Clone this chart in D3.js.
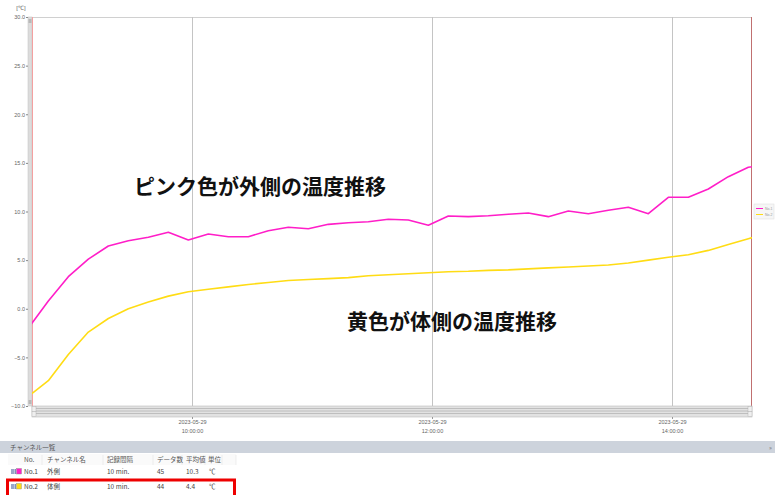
<!DOCTYPE html>
<html>
<head>
<meta charset="utf-8">
<script src="https://cdn.jsdelivr.net/npm/d3@7"></script>
<style>
  html, body { margin: 0; padding: 0; background: #fff; }
  svg { display: block; }
  .ax text { font-family: "Liberation Sans", "DejaVu Sans", sans-serif; fill: #666; }
</style>
</head>
<body>
<svg id="chart" width="775" height="495"></svg>
<script>
// ---- data ----
const startTime = "2023-05-29T08:38:10";
const stepMinutes = 10;
const outerTemp = [ // No.1 外側 (pink)
  -2.0, 0.8, 3.3, 5.1, 6.45, 7.0, 7.35, 7.86, 7.07, 7.69,
  7.41, 7.41, 8.02, 8.38, 8.23, 8.68, 8.85, 8.95, 9.2, 9.13,
  8.58, 9.54, 9.47, 9.57, 9.72, 9.85, 9.47, 10.05, 9.77, 10.12,
  10.43, 9.77, 11.46, 11.46, 12.31, 13.58, 14.55, 14.8
];
const bodyTemp = [ // No.2 体側 (yellow)
  -9.0, -7.4, -4.7, -2.4, -1.0, 0.0, 0.7, 1.3, 1.75, 2.0,
  2.25, 2.5, 2.7, 2.9, 3.0, 3.1, 3.2, 3.4, 3.5, 3.6,
  3.7, 3.8, 3.85, 3.95, 4.0, 4.1, 4.2, 4.3, 4.4, 4.5,
  4.7, 5.0, 5.3, 5.55, 6.0, 6.6, 7.2, 7.8
];
const yTicks = [-10, -5, 0, 5, 10, 15, 20, 25, 30];
const xTickTimes = ["2023-05-29T10:00:00", "2023-05-29T12:00:00", "2023-05-29T14:00:00"];
const xDomain = ["2023-05-29T08:40:00", "2023-05-29T14:40:00"];
const yDomain = [-10, 30];
const unitLabel = "[℃]";
const seriesNames = ["No.1", "No.2"];
const seriesColors = ["#ff1ec8", "#ffdc14"];
const annotations = ["ピンク色が外側の温度推移", "黄色が体側の温度推移"];
const tableTitle = "チャンネル一覧";
const tableHeader = ["No.", "チャンネル名", "記録間隔", "データ数", "平均値", "単位"];
const tableRows = [
  ["No.1", "外側", "10 min.", "45", "10.3", "℃"],
  ["No.2", "体側", "10 min.", "44", "4.4", "℃"]
];

// ---- layout ----
const svg = d3.select("#chart");
const L = 32, R = 752, T = 17, B = 406;
const parse = s => new Date(s);
const t0 = parse(startTime);
const times = outerTemp.map((_, i) => new Date(t0.getTime() + i * stepMinutes * 60000));

const x = d3.scaleTime().domain(xDomain.map(parse)).range([L, R]);
const y = d3.scaleLinear().domain(yDomain).range([B, T]);

svg.append("defs").append("clipPath").attr("id", "clip")
  .append("rect").attr("x", L).attr("y", T).attr("width", R - L).attr("height", B - T);

// top border
svg.append("line").attr("x1", L).attr("x2", R).attr("y1", T + 0.5).attr("y2", T + 0.5)
  .attr("stroke", "#d0d0d0").attr("stroke-width", 1);

// vertical grid
svg.append("g").selectAll("line").data(xTickTimes.map(parse)).join("line")
  .attr("x1", d => Math.round(x(d)) + 0.5).attr("x2", d => Math.round(x(d)) + 0.5)
  .attr("y1", T).attr("y2", B)
  .attr("stroke", "#c4c4c4").attr("stroke-width", 1);

// left vertical scroll bar
svg.append("rect").attr("x", 28).attr("y", T).attr("width", 4).attr("height", B - T)
  .attr("fill", "#dcdcdc").attr("stroke", "#c0c0c0").attr("stroke-width", 0.5);
svg.append("rect").attr("x", 28.5).attr("y", T + 2).attr("width", 3).attr("height", 4)
  .attr("fill", "#b8b8b8");
svg.append("rect").attr("x", 28.5).attr("y", B - 6).attr("width", 3).attr("height", 4)
  .attr("fill", "#b8b8b8");
svg.append("line").attr("x1", L + 0.5).attr("x2", L + 0.5).attr("y1", T).attr("y2", B)
  .attr("stroke", "#f4a0a0").attr("stroke-width", 1);
// right boundary line
svg.append("line").attr("x1", R - 0.5).attr("x2", R - 0.5).attr("y1", T).attr("y2", B)
  .attr("stroke", "#c07070").attr("stroke-width", 1);

// y axis
const yAxis = d3.axisLeft(y).tickValues(yTicks).tickFormat(d3.format(".1f")).tickSize(2).tickPadding(1);
const gy = svg.append("g").attr("class", "ax").attr("transform", `translate(${28},0)`).call(yAxis);
gy.select(".domain").remove();
gy.selectAll(".tick line").attr("stroke", "#888");
gy.selectAll("text").attr("font-size", 5.5);
svg.append("text").attr("x", 21).attr("y", 10).attr("text-anchor", "middle")
  .attr("font-size", 6).attr("fill", "#666").attr("font-family", "Liberation Sans, sans-serif")
  .text(unitLabel);

// horizontal scroll bar under plot
const sb = svg.append("g");
sb.append("rect").attr("x", L).attr("y", B).attr("width", R - L).attr("height", 11)
  .attr("fill", "#e2e2e2").attr("stroke", "#bdbdbd").attr("stroke-width", 0.6);
[408.5, 411, 413.5].forEach(yy => sb.append("line").attr("x1", L + 4).attr("x2", R - 4)
  .attr("y1", yy).attr("y2", yy).attr("stroke", "#b5b5b5").attr("stroke-width", 0.8));
[L, R - 4].forEach(xx => {
  sb.append("rect").attr("x", xx).attr("y", B + 0.5).attr("width", 4).attr("height", 5)
    .attr("fill", "#efefef").attr("stroke", "#aaa").attr("stroke-width", 0.4);
  sb.append("rect").attr("x", xx).attr("y", B + 5.5).attr("width", 4).attr("height", 5)
    .attr("fill", "#efefef").attr("stroke", "#aaa").attr("stroke-width", 0.4);
});

// x axis
const xAxis = d3.axisBottom(x).tickValues(xTickTimes.map(parse)).tickSize(2).tickFormat("");
const gx = svg.append("g").attr("class", "ax").attr("transform", `translate(0,${B + 11})`).call(xAxis);
gx.select(".domain").remove();
gx.selectAll(".tick line").attr("stroke", "#999");
const fmtD = d3.timeFormat("%Y-%m-%d"), fmtT = d3.timeFormat("%H:%M:%S");
gx.selectAll(".tick").append("text").attr("font-size", 5.5).attr("text-anchor", "middle")
  .attr("fill", "#666")
  .each(function(d) {
    const t = d3.select(this);
    t.append("tspan").attr("x", 0).attr("y", 7).text(fmtD(d));
    t.append("tspan").attr("x", 0).attr("y", 16).text(fmtT(d));
  });

// lines
const line = d3.line().x((d, i) => x(times[i])).y(d => y(d));
const plot = svg.append("g").attr("clip-path", "url(#clip)");
[bodyTemp, outerTemp].forEach((s, j) => {
  const col = j === 0 ? seriesColors[1] : seriesColors[0];
  plot.append("path").datum(s).attr("d", line).attr("fill", "none")
    .attr("stroke", col).attr("stroke-width", 1.6).attr("stroke-linejoin", "round");
});

// small legend at right
const lg = svg.append("g").attr("transform", "translate(754,204)");
lg.append("rect").attr("x", 0).attr("y", 0).attr("width", 20).attr("height", 15)
  .attr("fill", "#f6f6f6").attr("stroke", "#e0e0e0").attr("stroke-width", 0.6);
seriesNames.forEach((n, i) => {
  lg.append("line").attr("x1", 2).attr("x2", 9).attr("y1", 4.5 + i * 6).attr("y2", 4.5 + i * 6)
    .attr("stroke", seriesColors[i]).attr("stroke-width", 1);
  lg.append("text").attr("x", 11).attr("y", 6 + i * 6).attr("font-size", 3.5).attr("fill", "#999")
    .attr("font-family", "Liberation Sans, sans-serif").text(n);
});

// annotations
const cjk = "'Noto Sans CJK JP', 'Noto Sans CJK SC', sans-serif";
svg.append("text").attr("x", 134).attr("y", 194).attr("font-size", 21).attr("font-weight", "bold")
  .attr("font-family", cjk).attr("fill", "#111").text(annotations[0]);
svg.append("text").attr("x", 347).attr("y", 329).attr("font-size", 21).attr("font-weight", "bold")
  .attr("font-family", cjk).attr("fill", "#111").text(annotations[1]);

// bottom panel
const panelFont = "'Noto Sans CJK JP', 'Noto Sans', sans-serif";
svg.append("rect").attr("x", 0).attr("y", 441).attr("width", 775).attr("height", 12)
  .attr("fill", "#cdd3dc");
svg.append("text").attr("x", 10).attr("y", 450).attr("font-size", 6.5).attr("fill", "#555")
  .attr("font-family", panelFont).text(tableTitle);
svg.append("text").attr("x", 769).attr("y", 450).attr("font-size", 6).attr("fill", "#777")
  .attr("font-family", panelFont).text("»");
svg.append("rect").attr("x", 0).attr("y", 453).attr("width", 775).attr("height", 42).attr("fill", "#fff");
const colX = [24, 47, 107, 157, 186, 208];
const colSep = [42, 103, 153, 182, 205, 222, 236];
svg.append("rect").attr("x", 8).attr("y", 454).attr("width", 228).attr("height", 11).attr("fill", "#fafafa");
colSep.forEach(cx => svg.append("line").attr("x1", cx).attr("x2", cx).attr("y1", 455).attr("y2", 465)
  .attr("stroke", "#e4e4e4").attr("stroke-width", 0.6));
tableHeader.forEach((h, i) => svg.append("text").attr("x", colX[i]).attr("y", 462)
  .attr("font-size", 6.5).attr("fill", "#555").attr("font-family", panelFont).text(h));
tableRows.forEach((r, ri) => {
  const yy = 474 + ri * 15;
  // channel icon
  const ig = svg.append("g").attr("transform", `translate(11,${yy - 6})`);
  ig.append("rect").attr("x", 0).attr("y", 1).attr("width", 3).attr("height", 5).attr("fill", "#9aa6c8");
  ig.append("rect").attr("x", 3.5).attr("y", 1).attr("width", 1.5).attr("height", 5).attr("fill", "#7f8fb8");
  ig.append("rect").attr("x", 5.5).attr("y", 0.5).attr("width", 5).attr("height", 5.5)
    .attr("fill", seriesColors[ri]).attr("stroke", "#888").attr("stroke-width", 0.4);
  r.forEach((c, ci) => svg.append("text").attr("x", colX[ci] + (ci === 5 ? 1 : 0)).attr("y", yy)
    .attr("font-size", 6.5).attr("fill", "#444").attr("font-family", panelFont).text(c));
});
// red highlight box
svg.append("rect").attr("x", 7.5).attr("y", 480).attr("width", 227).attr("height", 20)
  .attr("fill", "none").attr("stroke", "#ee0000").attr("stroke-width", 3);
</script>
</body>
</html>
